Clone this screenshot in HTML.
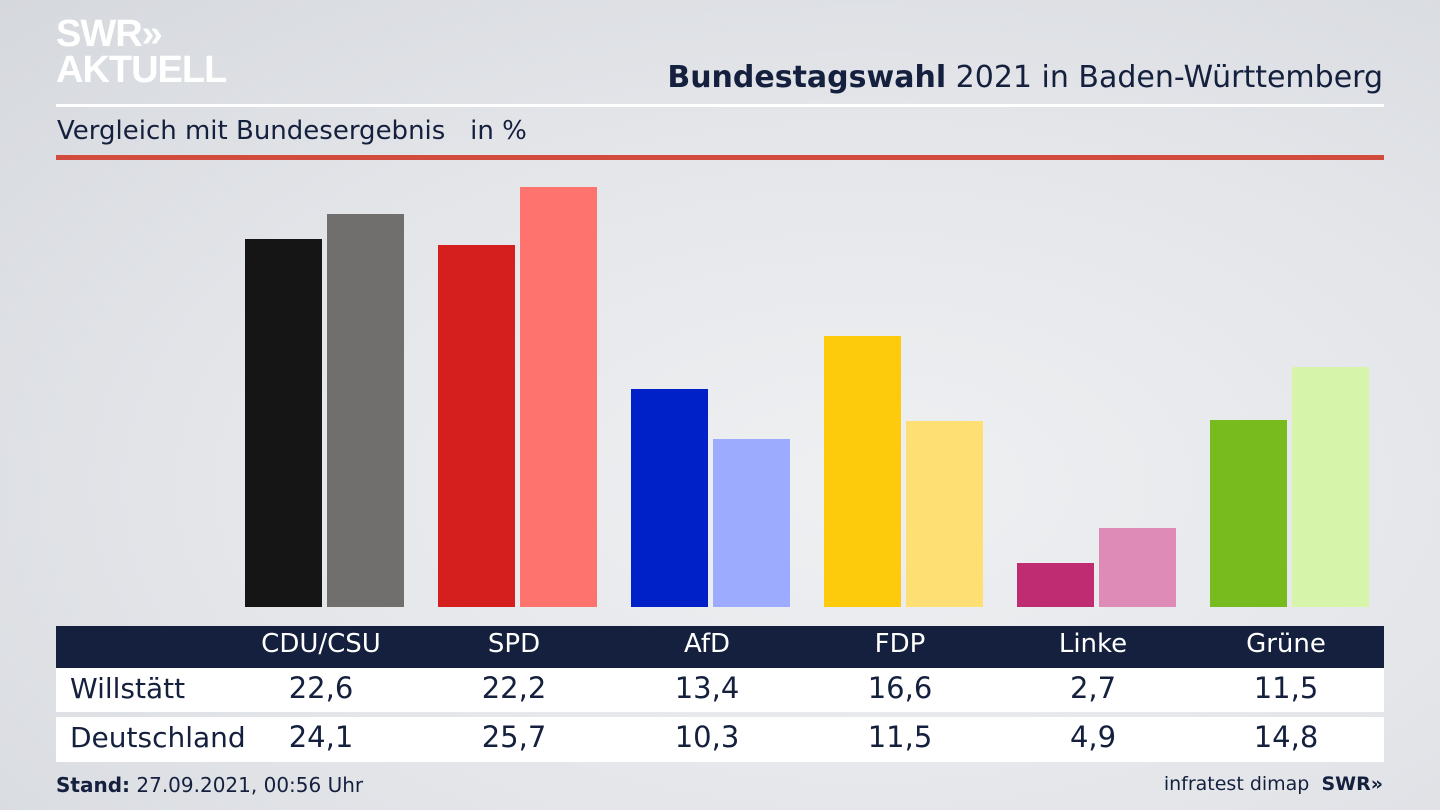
<!DOCTYPE html>
<html><head><meta charset="utf-8"><style>
body{margin:0;width:1440px;height:810px;overflow:hidden;background:radial-gradient(ellipse at 60% 60%,#eef0f2 0%,#e3e5e9 55%,#d5d8dd 100%);font-family:"DejaVu Sans","Liberation Sans",sans-serif;position:relative;color:#14203d}
.a{position:absolute}
.bar{position:absolute;bottom:203px;width:77px}
.t{position:absolute;text-align:center;width:140px;font-size:29px}
</style></head><body>
<div class="a" style="left:56px;top:16px;color:#fff;font-weight:bold;font-size:38px;line-height:36px;letter-spacing:-1px;font-family:'Liberation Sans',sans-serif">SWR»<br>AKTUELL</div>
<div class="a" style="left:56px;top:104px;width:1328px;height:3px;background:#fff"></div>
<div class="a" style="right:57px;top:60px;font-size:30px;color:#14203d"><b>Bundestagswahl</b> 2021 in Baden-Württemberg</div>
<div class="a" style="left:57px;top:116px;font-size:26px;color:#14203d">Vergleich mit Bundesergebnis&nbsp;&nbsp; in %</div>
<div class="a" style="left:56px;top:155px;width:1328px;height:5px;background:#d14c3c"></div>

<div class="bar" style="left:245px;height:368px;background:#151515"></div>
<div class="bar" style="left:327px;height:393px;background:#706f6d"></div>
<div class="bar" style="left:438px;height:362px;background:#d51f1f"></div>
<div class="bar" style="left:520px;height:420px;background:#fe736d"></div>
<div class="bar" style="left:631px;height:218px;background:#0020c8"></div>
<div class="bar" style="left:713px;height:168px;background:#9dabff"></div>
<div class="bar" style="left:824px;height:271px;background:#fecb0c"></div>
<div class="bar" style="left:906px;height:186px;background:#fddf74"></div>
<div class="bar" style="left:1017px;height:44px;background:#bf2c72"></div>
<div class="bar" style="left:1099px;height:79px;background:#df8bb8"></div>
<div class="bar" style="left:1210px;height:187px;background:#78bb1f"></div>
<div class="bar" style="left:1292px;height:240px;background:#d6f5ab"></div>

<div class="a" style="left:56px;top:626px;width:1328px;height:42px;background:#14203d"></div>
<div class="a" style="left:56px;top:668px;width:1328px;height:44px;background:#fff"></div>
<div class="a" style="left:56px;top:717px;width:1328px;height:45px;background:#fff"></div>
<div class="a" style="left:70px;top:672px;font-size:28px">Willstätt</div>
<div class="a" style="left:70px;top:721px;font-size:28px">Deutschland</div>

<div class="t" style="left:251px;top:629px;color:#fff;font-size:26px">CDU/CSU</div>
<div class="t" style="left:444px;top:629px;color:#fff;font-size:26px">SPD</div>
<div class="t" style="left:637px;top:629px;color:#fff;font-size:26px">AfD</div>
<div class="t" style="left:830px;top:629px;color:#fff;font-size:26px">FDP</div>
<div class="t" style="left:1023px;top:629px;color:#fff;font-size:26px">Linke</div>
<div class="t" style="left:1216px;top:629px;color:#fff;font-size:26px">Grüne</div>

<div class="t" style="left:251px;top:671px">22,6</div>
<div class="t" style="left:444px;top:671px">22,2</div>
<div class="t" style="left:637px;top:671px">13,4</div>
<div class="t" style="left:830px;top:671px">16,6</div>
<div class="t" style="left:1023px;top:671px">2,7</div>
<div class="t" style="left:1216px;top:671px">11,5</div>
<div class="t" style="left:251px;top:720px">24,1</div>
<div class="t" style="left:444px;top:720px">25,7</div>
<div class="t" style="left:637px;top:720px">10,3</div>
<div class="t" style="left:830px;top:720px">11,5</div>
<div class="t" style="left:1023px;top:720px">4,9</div>
<div class="t" style="left:1216px;top:720px">14,8</div>

<div class="a" style="left:56px;top:773px;font-size:20px"><b>Stand:</b> 27.09.2021, 00:56 Uhr</div>
<div class="a" style="right:57px;top:773px;font-size:19px">infratest dimap&nbsp; <b>SWR»</b></div>
</body></html>
